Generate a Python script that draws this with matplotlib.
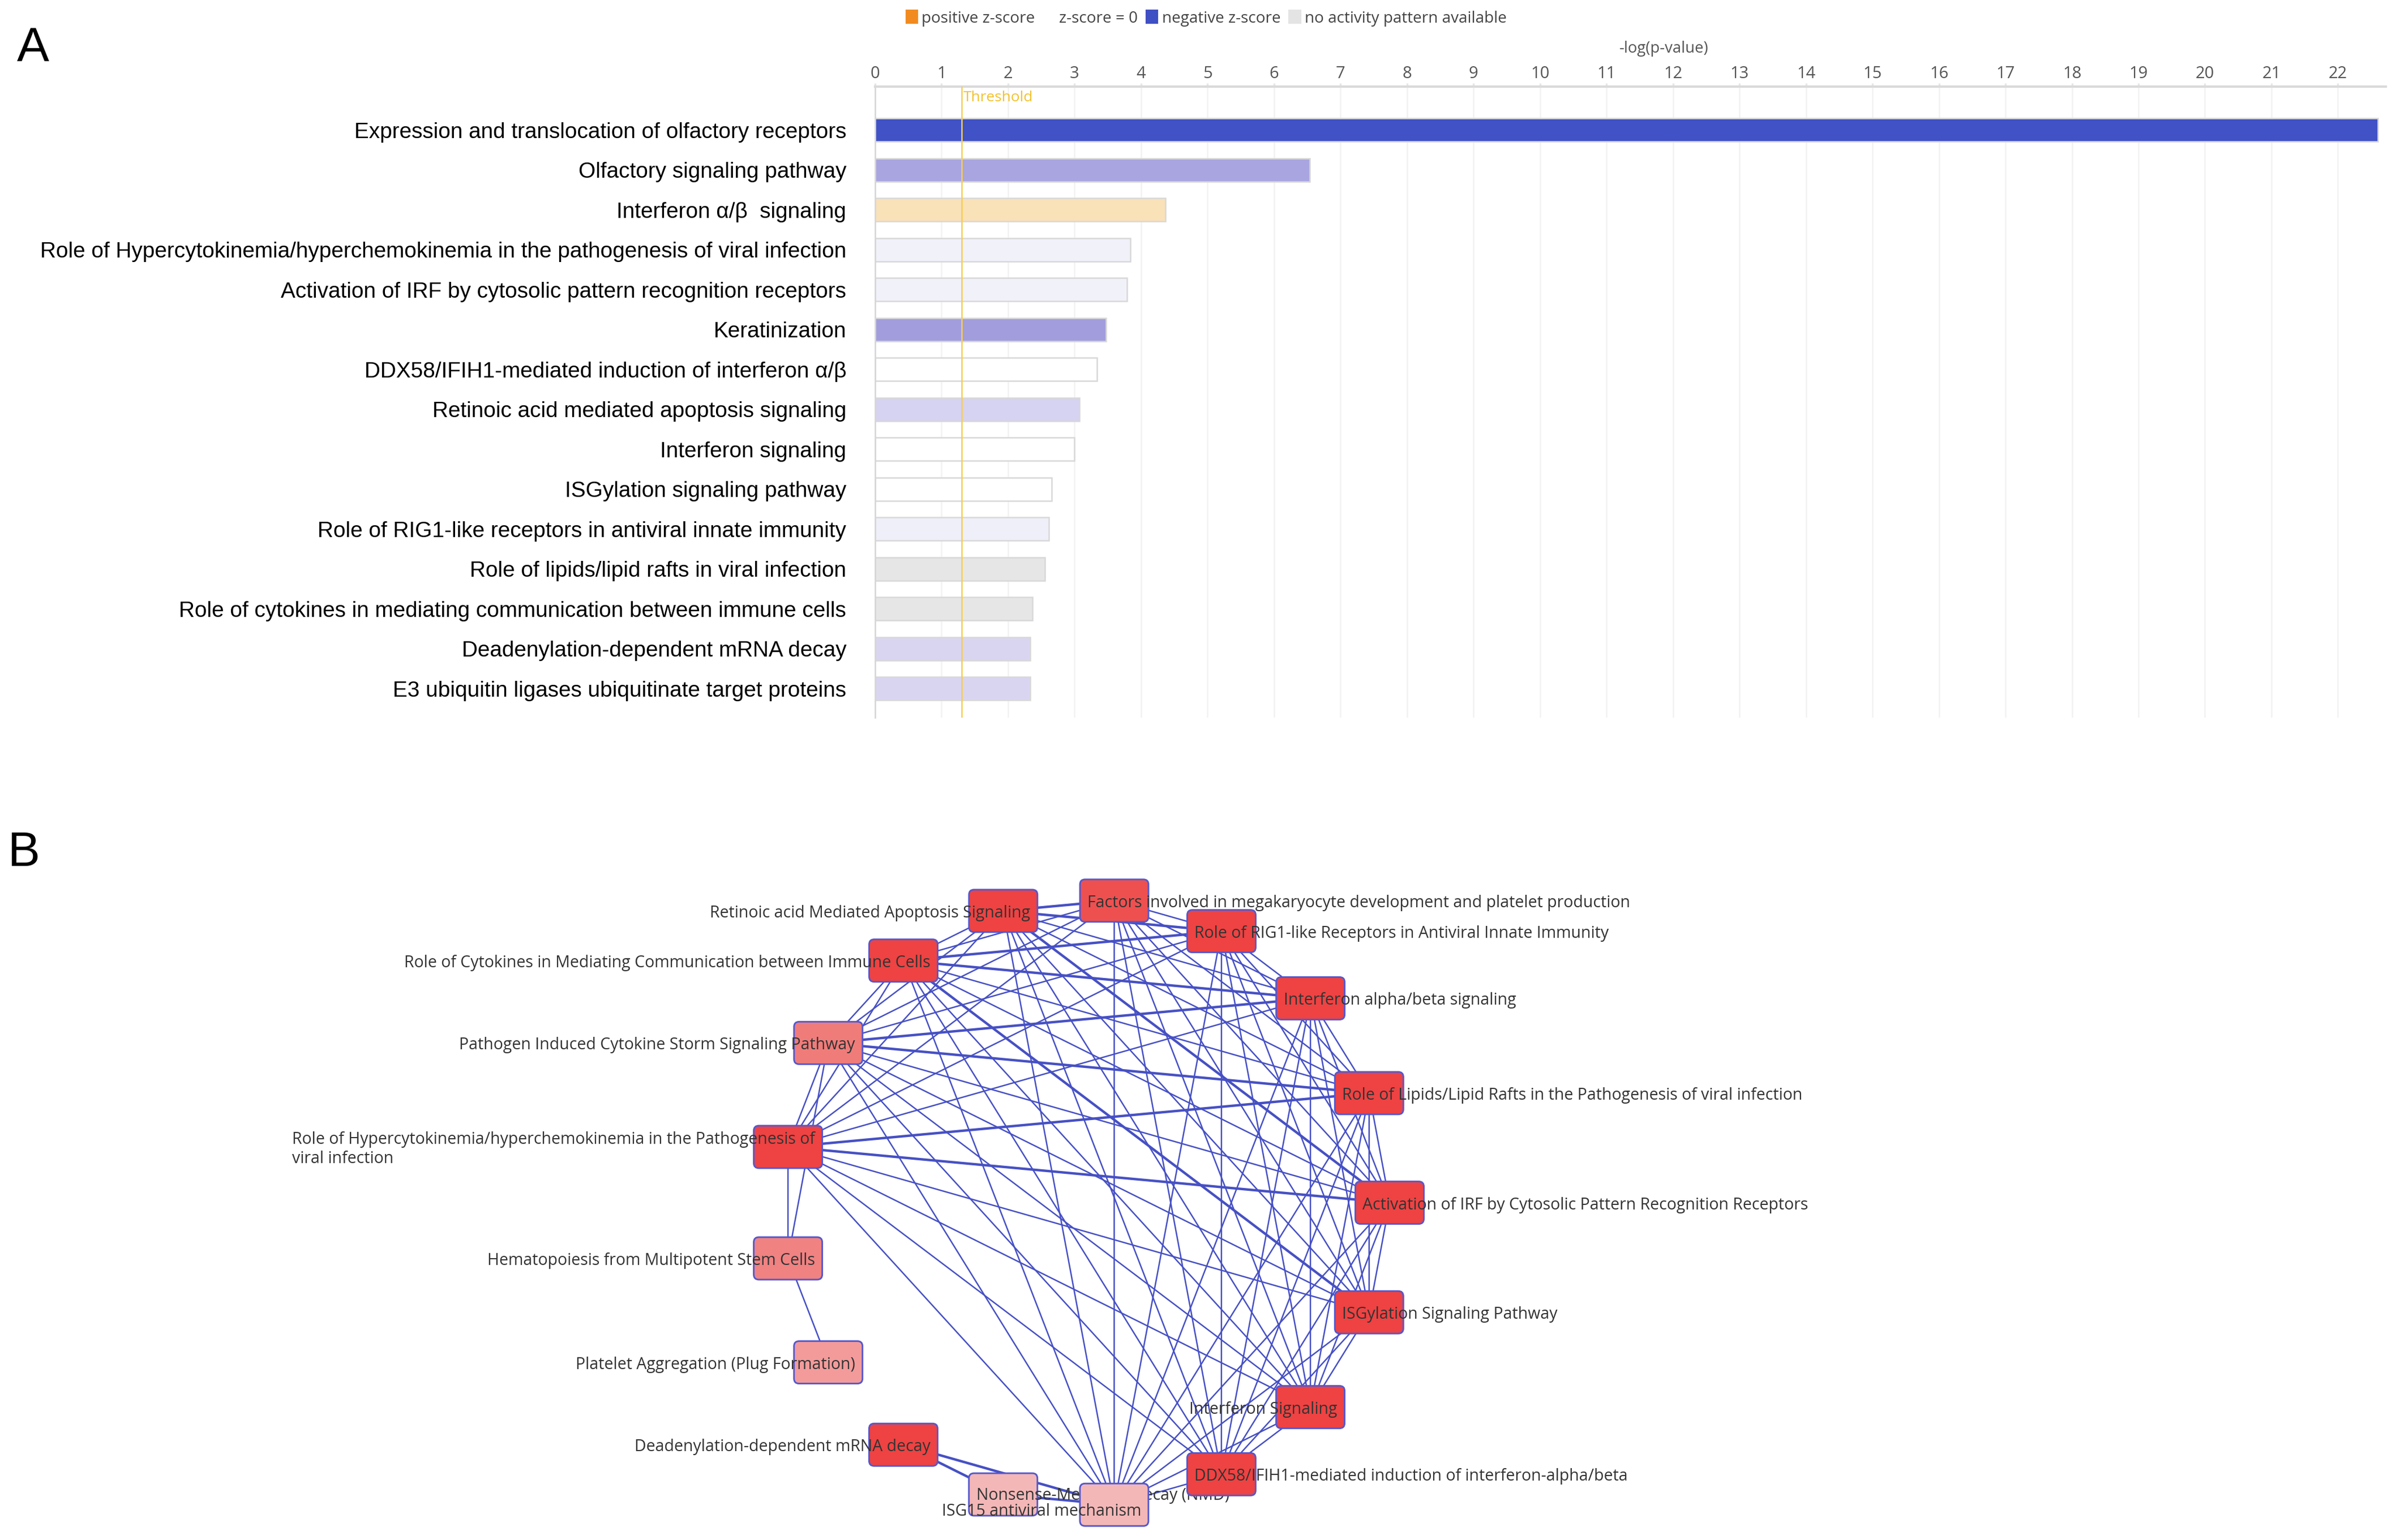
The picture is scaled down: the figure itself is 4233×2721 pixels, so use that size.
import numpy as np
import matplotlib
matplotlib.use("Agg")
import matplotlib.pyplot as plt
from matplotlib.patches import FancyBboxPatch, Patch

# --- PANEL A: canonical pathways, -log(p-value) ---
PATHWAYS = [
    "Expression and translocation of olfactory receptors",
    "Olfactory signaling pathway",
    "Interferon \u03b1/\u03b2  signaling",
    "Role of Hypercytokinemia/hyperchemokinemia in the pathogenesis of viral infection",
    "Activation of IRF by cytosolic pattern recognition receptors",
    "Keratinization",
    "DDX58/IFIH1-mediated induction of interferon \u03b1/\u03b2",
    "Retinoic acid mediated apoptosis signaling",
    "Interferon signaling",
    "ISGylation signaling pathway",
    "Role of RIG1-like receptors in antiviral innate immunity",
    "Role of lipids/lipid rafts in viral infection",
    "Role of cytokines in mediating communication between immune cells",
    "Deadenylation-dependent mRNA decay",
    "E3 ubiquitin ligases ubiquitinate target proteins",
]
NEG_LOG_P = [22.6, 6.54, 4.37, 3.84, 3.79, 3.47, 3.34, 3.07, 3.00, 2.66, 2.61, 2.55, 2.37, 2.33, 2.33]
BAR_COLORS = ["#4052C6", "#A9A5E1", "#F9E1B8", "#F1F1FA", "#F1F1FA", "#A29EDD", "#FFFFFF",
              "#D6D2F1", "#FFFFFF", "#FFFFFF", "#EFEFF9", "#E6E6E6", "#E6E6E6", "#D9D5F1", "#D9D5F1"]
THRESHOLD = 1.3
X_TICKS = list(range(23))
LEGEND_LABELS = ["positive z-score", "z-score = 0", "negative z-score", "no activity pattern available"]
LEGEND_COLORS = ["#F18B1F", "#FFFFFF", "#3F4FC4", "#E4E4E4"]

# --- PANEL B: pathway overlap network (circular layout, clockwise from top) ---
NODE_KEYS = ["factors", "rig1", "ifnab", "lipids", "irf", "isgyl", "ifnsig", "ddx58", "isg15",
             "nmd", "deadenyl", "platelet", "hemato", "hypercyto", "pathogen", "cytokines", "retinoic"]
NODE_LABELS = [
    "Factors involved in megakaryocyte development and platelet production",
    "Role of RIG1-like Receptors in Antiviral Innate Immunity",
    "Interferon alpha/beta signaling",
    "Role of Lipids/Lipid Rafts in the Pathogenesis of viral infection",
    "Activation of IRF by Cytosolic Pattern Recognition Receptors",
    "ISGylation Signaling Pathway",
    "Interferon Signaling",
    "DDX58/IFIH1-mediated induction of interferon-alpha/beta",
    "ISG15 antiviral mechanism",
    "Nonsense-Mediated Decay (NMD)",
    "Deadenylation-dependent mRNA decay",
    "Platelet Aggregation (Plug Formation)",
    "Hematopoiesis from Multipotent Stem Cells",
    "Role of Hypercytokinemia/hyperchemokinemia in the Pathogenesis of\nviral infection",
    "Pathogen Induced Cytokine Storm Signaling Pathway",
    "Role of Cytokines in Mediating Communication between Immune Cells",
    "Retinoic acid Mediated Apoptosis Signaling",
]
NODE_COLORS = ["#EE5050", "#EF4242", "#EF4242", "#EF4242", "#EF4242", "#EF4242", "#EF4242",
               "#EF4242", "#F4B7B7", "#F4B7B7", "#EF4242", "#F39B9B", "#F08282", "#EF4242",
               "#F07C7A", "#EF4242", "#EF4242"]
LABEL_START = ["left", "left", "left", "left", "left", "left", "right", "left", "right",
               "left", "right", "right", "right", "right", "right", "right", "right"]
LABEL_DY = [4, 4, 4, 4, 4, 4, 4, 4, 12, 2, 4, 4, 4, 4, 4, 4, 4]

EDGES = [
    ("factors", "rig1"), ("factors", "ifnab"), ("factors", "lipids"), ("factors", "irf"),
    ("factors", "isgyl"), ("factors", "ifnsig"), ("factors", "ddx58"), ("factors", "isg15"),
    ("factors", "hypercyto"), ("factors", "pathogen"), ("factors", "cytokines"), ("factors", "retinoic"),
    ("rig1", "ifnab"), ("rig1", "lipids"), ("rig1", "irf"), ("rig1", "isgyl"), ("rig1", "ifnsig"),
    ("rig1", "ddx58"), ("rig1", "isg15"), ("rig1", "hypercyto"), ("rig1", "pathogen"),
    ("rig1", "cytokines"), ("rig1", "retinoic"),
    ("ifnab", "lipids"), ("ifnab", "irf"), ("ifnab", "isgyl"), ("ifnab", "ifnsig"), ("ifnab", "ddx58"),
    ("ifnab", "isg15"), ("ifnab", "hypercyto"), ("ifnab", "pathogen"), ("ifnab", "cytokines"),
    ("ifnab", "retinoic"),
    ("lipids", "irf"), ("lipids", "isgyl"), ("lipids", "ifnsig"), ("lipids", "ddx58"), ("lipids", "isg15"),
    ("lipids", "hypercyto"), ("lipids", "pathogen"), ("lipids", "cytokines"), ("lipids", "retinoic"),
    ("irf", "isgyl"), ("irf", "ifnsig"), ("irf", "ddx58"), ("irf", "isg15"), ("irf", "hypercyto"),
    ("irf", "pathogen"), ("irf", "cytokines"), ("irf", "retinoic"),
    ("isgyl", "ifnsig"), ("isgyl", "ddx58"), ("isgyl", "isg15"), ("isgyl", "hypercyto"),
    ("isgyl", "pathogen"), ("isgyl", "cytokines"), ("isgyl", "retinoic"),
    ("ifnsig", "ddx58"), ("ifnsig", "isg15"), ("ifnsig", "hypercyto"), ("ifnsig", "pathogen"),
    ("ifnsig", "cytokines"), ("ifnsig", "retinoic"),
    ("ddx58", "isg15"), ("ddx58", "hypercyto"), ("ddx58", "pathogen"), ("ddx58", "cytokines"),
    ("ddx58", "retinoic"),
    ("isg15", "hypercyto"), ("isg15", "pathogen"), ("isg15", "cytokines"), ("isg15", "retinoic"),
    ("isg15", "nmd"), ("isg15", "deadenyl"),
    ("hypercyto", "pathogen"), ("hypercyto", "cytokines"), ("hypercyto", "retinoic"), ("hypercyto", "hemato"),
    ("pathogen", "cytokines"), ("pathogen", "retinoic"), ("pathogen", "hemato"),
    ("cytokines", "retinoic"),
    ("nmd", "deadenyl"),
    ("hemato", "platelet"),
]
THICK_EDGES = [
    ("factors", "retinoic"), ("rig1", "retinoic"), ("rig1", "cytokines"), ("ifnab", "cytokines"),
    ("ifnab", "pathogen"), ("lipids", "pathogen"), ("lipids", "hypercyto"), ("irf", "hypercyto"),
    ("isgyl", "cytokines"), ("irf", "retinoic"), ("nmd", "deadenyl"), ("isg15", "nmd"),
    ("isg15", "deadenyl"),
]

# --- layout (pixel units of the 4233 x 2721 canvas) ---
W_PX, H_PX = 4233, 2721
NET_CENTER = (1919, 2125)
NET_RADIUS = 536
NET_START_DEG = 5.3
NODE_W, NODE_H = 121, 75
EDGE_COLOR = "#4650C4"

fig = plt.figure(figsize=(W_PX / 300, H_PX / 300), dpi=300)
fig.patch.set_facecolor("white")

# ---------------- panel A ----------------
ax = fig.add_axes([1546 / W_PX, 1 - 1268 / H_PX, (4215 - 1546) / W_PX, (1268 - 153) / H_PX])
ypos = np.arange(len(PATHWAYS))
ax.barh(ypos, NEG_LOG_P, height=0.58, color=BAR_COLORS, edgecolor="#D8D8D8", linewidth=0.6, zorder=2)
ax.axvline(THRESHOLD, color="#F6CD55", lw=0.6, zorder=3)
ax.text(THRESHOLD + 0.03, -0.82, "Threshold", color="#F2C22E", fontsize=6.3,
        family="Open Sans", ha="left", va="center", zorder=4)

ax.set_xlim(0, 22.72)
ax.set_ylim(len(PATHWAYS) - 1 + 0.73, -1.09)
ax.xaxis.tick_top()
ax.set_xticks(X_TICKS)
ax.set_xticklabels([str(t) for t in X_TICKS], family="Open Sans", fontsize=7, color="#555555")
ax.tick_params(axis="x", length=1.5, color="#E6E6E6", pad=0.4)
ax.set_yticks(ypos)
ax.set_yticklabels(PATHWAYS, family="Liberation Sans", fontsize=9.3, color="black")
ax.tick_params(axis="y", length=0, pad=12.2)
ax.grid(axis="x", color="#F2F2F2", lw=0.6, zorder=0)
ax.set_axisbelow(True)
for side in ["right", "bottom"]:
    ax.spines[side].set_visible(False)
ax.spines["top"].set_color("#DADADA")
ax.spines["top"].set_linewidth(1.0)
ax.spines["left"].set_color("#D5D5D5")
ax.spines["left"].set_linewidth(0.6)
ax.text(11.86 / 22.72, 1.06, "-log(p-value)", transform=ax.transAxes, fontsize=6.6,
        family="Open Sans", color="#555555", ha="center", va="center")

handles = [Patch(facecolor=c, edgecolor="none") for c in LEGEND_COLORS]
fig.legend(handles, LEGEND_LABELS, loc="center left", bbox_to_anchor=(1600 / W_PX, 1 - 32 / H_PX),
           ncol=4, frameon=False, borderpad=0, borderaxespad=0, handlelength=0.8,
           handleheight=1.0, handletextpad=0.22, columnspacing=0.5,
           prop={"family": "Open Sans", "size": 6.7}, labelcolor="#444444")

fig.text(30 / W_PX, 1 - 108 / H_PX, "A", fontsize=20.5, family="Liberation Sans", ha="left", va="baseline")
fig.text(14 / W_PX, 1 - 1530 / H_PX, "B", fontsize=20.5, family="Liberation Sans", ha="left", va="baseline")

# ---------------- panel B ----------------
axn = fig.add_axes([0, 0, 1, 1])
axn.set_xlim(0, W_PX)
axn.set_ylim(H_PX, 0)
axn.axis("off")
axn.patch.set_alpha(0)

n = len(NODE_KEYS)
theta = np.deg2rad(NET_START_DEG + 360.0 * np.arange(n) / n)
px = NET_CENTER[0] + NET_RADIUS * np.sin(theta)
py = NET_CENTER[1] - NET_RADIUS * np.cos(theta)
pos = {k: (x, y) for k, x, y in zip(NODE_KEYS, px, py)}

thick = set(THICK_EDGES) | set((b, a) for a, b in THICK_EDGES)
for a, b in EDGES:
    lw = 1.05 if (a, b) in thick else 0.6
    axn.plot([pos[a][0], pos[b][0]], [pos[a][1], pos[b][1]], color=EDGE_COLOR, lw=lw,
             zorder=1, solid_capstyle="butt")

# draw nodes counter-clockwise so later labels sit on top where they overlap
for rank, i in enumerate(range(n - 1, -1, -1)):
    x, y = px[i], py[i]
    box = FancyBboxPatch((x - NODE_W / 2, y - NODE_H / 2), NODE_W, NODE_H,
                         boxstyle="round,pad=0,rounding_size=9",
                         facecolor=NODE_COLORS[i], edgecolor="#5558CC", linewidth=0.7,
                         zorder=10 + 2 * rank)
    axn.add_patch(box)
    if LABEL_START[i] == "left":
        tx, ha = x - NODE_W / 2 + 13, "left"
    else:
        tx, ha = x + NODE_W / 2 - 13, "right"
    axn.text(tx, y + LABEL_DY[i], NODE_LABELS[i], ha=ha, va="center", multialignment="left",
             fontsize=6.85, family="Open Sans", color="#333333", zorder=11 + 2 * rank,
             linespacing=1.2)

fig.savefig("out.png", dpi=300, facecolor="white")
